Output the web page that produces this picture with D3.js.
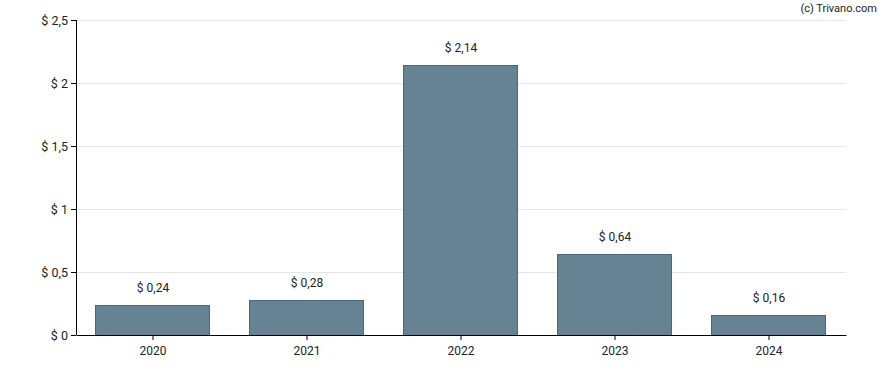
<!DOCTYPE html>
<html>
<head>
<meta charset="utf-8">
<script src="https://cdn.jsdelivr.net/npm/d3@7/dist/d3.min.js"></script>
<style>
  body { margin: 0; background: #fff; }
  text { font-family: Roboto, "Noto Sans", sans-serif; fill: #222; }
</style>
</head>
<body>
<div id="chart"></div>
<script>
var years   = ['2020', '2021', '2022', '2023', '2024'];
var values  = [0.24, 0.28, 2.14, 0.64, 0.16];
var yTicks  = [0, 0.5, 1, 1.5, 2, 2.5];

var width  = 888,
    height = 370,
    margin = { top: 20, right: 42, bottom: 35, left: 76 };

var fmt = function (v) { return '$ ' + String(v).replace('.', ','); };

var svg = d3.select('#chart').append('svg')
    .attr('width',  width)
    .attr('height', height);

var plot = svg.append('g')
    .attr('transform', 'translate(' + margin.left + ',' + margin.top + ')');

var w = width  - margin.left - margin.right,
    h = height - margin.top  - margin.bottom;

var x = d3.scaleBand().domain(years).range([0, w]).paddingInner(0.26).paddingOuter(0.13);
var y = d3.scaleLinear().domain([0, 2.5]).range([h, 0]);

// grid
plot.append('g')
    .selectAll('line')
    .data(yTicks.filter(function (d) { return d > 0; }))
    .enter().append('line')
        .attr('x1', 0)
        .attr('x2', w)
        .attr('y1', function (d) { return Math.round(y(d)) + 0.5; })
        .attr('y2', function (d) { return Math.round(y(d)) + 0.5; })
        .attr('stroke', '#e6e6e6')
        .attr('stroke-width', 1);

// bars
plot.append('g')
    .selectAll('rect')
    .data(values)
    .enter().append('rect')
        .attr('x', function (d, i) { return Math.round(x(years[i])) - 0.5; })
        .attr('y', function (d) { return Math.round(y(d)) + 0.5; })
        .attr('width', Math.round(x.bandwidth()))
        .attr('height', function (d) { return h - Math.round(y(d)); })
        .attr('fill', '#668394')
        .attr('stroke', '#4b677c')
        .attr('stroke-width', 1);

// value labels
plot.append('g')
    .selectAll('text')
    .data(values)
    .enter().append('text')
        .attr('x', function (d, i) { return x(years[i]) + x.bandwidth() / 2; })
        .attr('y', function (d) { return y(d) - 13; })
        .attr('text-anchor', 'middle')
        .style('font-size', '12px')
        .text(fmt);

// axes
var yAxis = plot.append('g')
    .call(d3.axisLeft(y).tickValues(yTicks).tickSize(5).tickPadding(3).tickFormat(fmt));

var xAxis = plot.append('g')
    .attr('transform', 'translate(0,' + h + ')')
    .call(d3.axisBottom(x).tickSize(5).tickPadding(6).tickSizeOuter(0));

[yAxis, xAxis].forEach(function (a) {
    a.selectAll('path, line').attr('stroke', '#000');
    a.selectAll('text').style('font-size', '12px').style('fill', '#222').style('font-family', 'Roboto, sans-serif');
});
yAxis.selectAll('text').style('font-size', '12.5px');
yAxis.select('.domain').attr('d', 'M0.5,' + h + 'V0');

svg.append('text')
    .attr('x', 877)
    .attr('y', 12)
    .attr('text-anchor', 'end')
    .style('font-size', '11px')
    .text('(c) Trivano.com');
</script>
</body>
</html>
